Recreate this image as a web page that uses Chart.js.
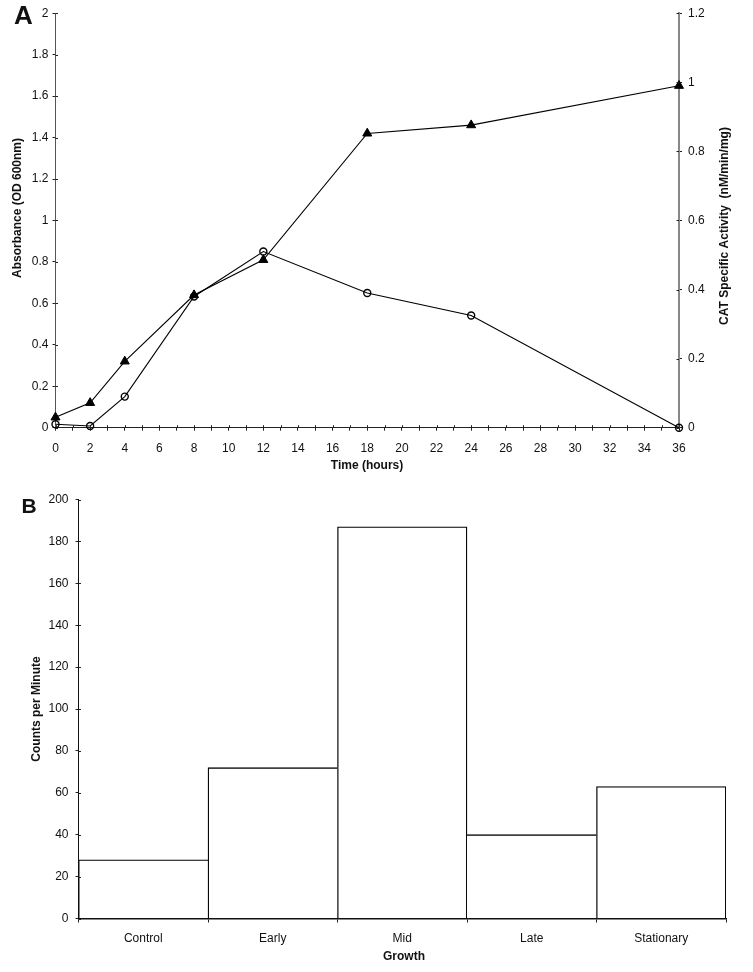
<!DOCTYPE html>
<html><head><meta charset="utf-8">
<script src="https://cdn.jsdelivr.net/npm/chart.js@4.4.1/dist/chart.umd.min.js"></script>
<style>
html,body{margin:0;padding:0;background:#fff;}
#wrap{position:relative;width:753px;height:972px;background:#fff;}
#ca{position:absolute;left:0;top:0;}
#cb{position:absolute;left:0;top:480px;}
</style></head><body>
<div id="wrap">
<canvas id="ca" width="753" height="480"></canvas>
<canvas id="cb" width="753" height="492"></canvas>
</div>
<script>
// ---- Panel A data ----
const timeHours = [0, 2, 4, 8, 12, 18, 24, 36];
const absorbance = [0.05, 0.12, 0.32, 0.64, 0.81, 1.42, 1.46, 1.65];
const catActivity = [0.01, 0.005, 0.09, 0.38, 0.51, 0.39, 0.325, 0];
const timeTickLabels = ['0','2','4','6','8','10','12','14','16','18','20','22','24','26','28','30','32','34','36'];
const absTickLabels = ['0','0.2','0.4','0.6','0.8','1','1.2','1.4','1.6','1.8','2'];
const catTickLabels = ['0','0.2','0.4','0.6','0.8','1','1.2'];
// ---- Panel B data ----
const growthStages = ['Control', 'Early', 'Mid', 'Late', 'Stationary'];
const countsPerMinute = [28, 72, 187, 40, 63];
const cpmTickLabels = ['0','20','40','60','80','100','120','140','160','180','200'];

Chart.defaults.font.family = "'Liberation Sans', Arial, Helvetica, sans-serif";
Chart.defaults.font.size = 12;
Chart.defaults.color = '#111';

const crossTicks = {
  id: 'crossTicks',
  afterDraw(chart, args, opts) {
    const ctx = chart.ctx;
    ctx.save();
    ctx.strokeStyle = '#222';
    ctx.lineWidth = 1;
    (opts.ids || []).forEach(id => {
      const s = chart.scales[id];
      s.ticks.forEach((t, i) => {
        const p = Math.round(s.getPixelForTick(i)) + 0.5;
        ctx.beginPath();
        if (s.isHorizontal()) {
          ctx.moveTo(p, s.top); ctx.lineTo(p, s.top - 2.5);
        } else if (s.position === 'left') {
          ctx.moveTo(s.right, p); ctx.lineTo(s.right + 2.5, p);
        } else {
          ctx.moveTo(s.left, p); ctx.lineTo(s.left - 2.5, p);
        }
        ctx.stroke();
      });
    });
    ctx.restore();
  }
};

const texts = {
  id: 'texts',
  afterDraw(chart, args, opts) {
    const ctx = chart.ctx;
    (opts.items || []).forEach(it => {
      ctx.save();
      ctx.font = it.font;
      ctx.fillStyle = '#111';
      ctx.textAlign = 'center';
      ctx.textBaseline = 'middle';
      ctx.translate(it.x, it.y);
      ctx.rotate(it.rot || 0);
      ctx.fillText(it.text, 0, 0);
      ctx.restore();
    });
  }
};

const FF = "'Liberation Sans', Arial, sans-serif";

new Chart(document.getElementById('ca'), {
  type: 'line',
  data: {
    datasets: [
      {
        label: 'Absorbance',
        data: timeHours.map((t, i) => ({x: t, y: absorbance[i]})),
        yAxisID: 'yL',
        borderColor: '#000', borderWidth: 1.1, tension: 0, fill: false, clip: false,
        pointStyle: 'triangle', pointRadius: 5.2,
        pointBackgroundColor: '#000', pointBorderColor: '#000', pointBorderWidth: 1
      },
      {
        label: 'CAT Specific Activity',
        data: timeHours.map((t, i) => ({x: t, y: catActivity[i]})),
        yAxisID: 'yR',
        borderColor: '#000', borderWidth: 1.1, tension: 0, fill: false, clip: false,
        pointStyle: 'circle', pointRadius: 3.5,
        pointBackgroundColor: 'rgba(255,255,255,0)', pointBorderColor: '#000', pointBorderWidth: 1.4
      }
    ]
  },
  options: {
    responsive: false, animation: false, devicePixelRatio: 1,
    layout: {padding: {top: 9, left: 0, right: 0, bottom: 0}},
    plugins: {
      legend: {display: false}, tooltip: {enabled: false},
      crossTicks: {ids: ['x', 'yL', 'yR']},
      texts: {items: [
        {text: 'A', x: 23.5, y: 17, font: 'bold 26px ' + FF},
        {text: 'Absorbance (OD 600nm)', x: 17.5, y: 208, rot: -Math.PI / 2, font: 'bold 12px ' + FF},
        {text: 'CAT Specific Activity  (nM/min/mg)', x: 725, y: 226, rot: -Math.PI / 2, font: 'bold 12px ' + FF},
        {text: 'Time (hours)', x: 367, y: 466, font: 'bold 12px ' + FF}
      ]}
    },
    scales: {
      x: {
        type: 'linear', position: 'bottom', min: 0, max: 36,
        ticks: {stepSize: 1, autoSkip: false, maxRotation: 0, padding: 10.5,
          callback: (v) => timeTickLabels.includes(String(v)) ? String(v) : ''},
        grid: {drawOnChartArea: false, tickLength: 3, color: '#222'},
        border: {color: '#222', width: 1},
        afterFit: (s) => { s.height = 52.3; }
      },
      yL: {
        type: 'linear', position: 'left', min: 0, max: 2,
        ticks: {stepSize: 0.2, padding: 4, callback: (v, i) => absTickLabels[i]},
        grid: {drawOnChartArea: false, tickLength: 3, color: '#222'},
        border: {color: '#555', width: 1},
        afterFit: (s) => { s.width = 55.5; }
      },
      yR: {
        type: 'linear', position: 'right', min: 0, max: 1.2,
        ticks: {stepSize: 0.2, padding: 6, callback: (v, i) => catTickLabels[i]},
        grid: {drawOnChartArea: false, tickLength: 3, color: '#222'},
        border: {color: '#888', width: 2},
        afterFit: (s) => { s.width = 74; }
      }
    }
  },
  plugins: [crossTicks, texts]
});

new Chart(document.getElementById('cb'), {
  type: 'bar',
  data: {
    labels: growthStages,
    datasets: [{
      label: 'Counts per Minute',
      data: countsPerMinute,
      backgroundColor: '#fff',
      borderColor: '#000',
      borderWidth: (c) => {
        const i = c.dataIndex, d = countsPerMinute;
        const left = (i === 0 || d[i] >= d[i - 1]) ? 1.3 : 0;
        const right = (i === d.length - 1 || d[i] > d[i + 1]) ? 1.3 : 0;
        return {top: 1.3, left: left, right: right, bottom: 0};
      },
      borderSkipped: 'bottom',
      barPercentage: 1, categoryPercentage: 1
    }]
  },
  options: {
    responsive: false, animation: false, devicePixelRatio: 1,
    layout: {padding: {top: 19.5, left: 0, right: 27, bottom: 0}},
    plugins: {
      legend: {display: false}, tooltip: {enabled: false},
      crossTicks: {ids: ['y']},
      texts: {items: [
        {text: 'B', x: 29, y: 27, font: 'bold 21px ' + FF},
        {text: 'Counts per Minute', x: 36.7, y: 229, rot: -Math.PI / 2, font: 'bold 12px ' + FF},
        {text: 'Growth', x: 404, y: 477, font: 'bold 12px ' + FF}
      ]}
    },
    scales: {
      x: {
        type: 'category',
        ticks: {padding: 9, maxRotation: 0, autoSkip: false},
        grid: {drawOnChartArea: false, offset: true, tickLength: 4, color: '#222'},
        border: {color: '#111', width: 1.5},
        afterFit: (s) => { s.height = 53.5; }
      },
      y: {
        type: 'linear', min: 0, max: 200,
        ticks: {stepSize: 20, padding: 7, callback: (v, i) => cpmTickLabels[i]},
        grid: {drawOnChartArea: false, tickLength: 3, color: '#222'},
        border: {color: '#111', width: 1},
        afterFit: (s) => { s.width = 78.5; }
      }
    }
  },
  plugins: [crossTicks, texts]
});
</script>
</body></html>
